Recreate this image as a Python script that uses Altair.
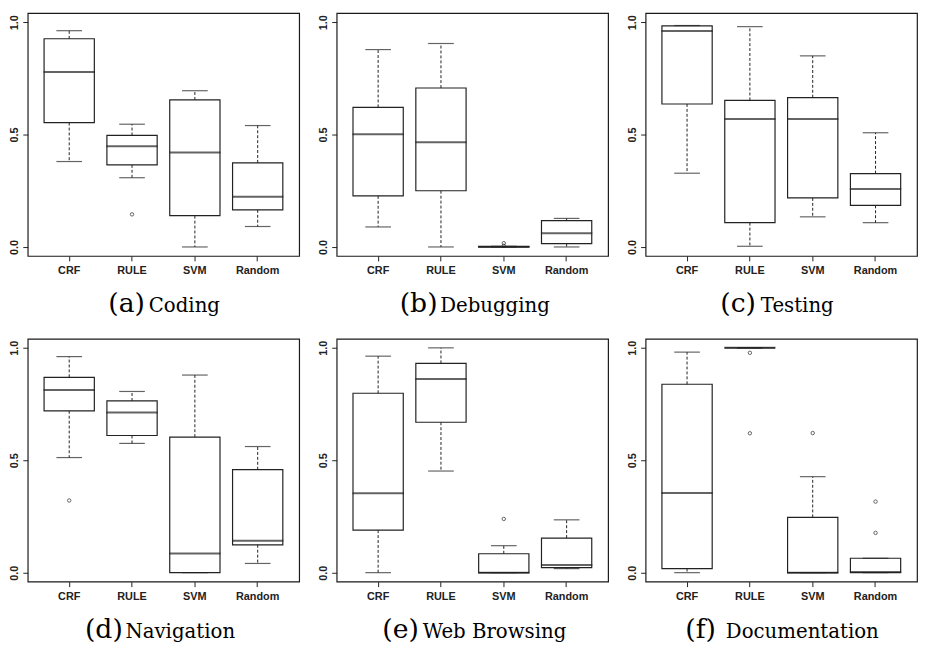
import altair as alt
import pandas as pd

categories = ["CRF", "RULE", "SVM", "Random"]
letters = ["(a)", "(b)", "(c)", "(d)", "(e)", "(f)"]
names = ["Coding", "Debugging", "Testing", "Navigation", "Web Browsing", "Documentation"]

# rows: panels (a)-(f); columns: CRF, RULE, SVM, Random
whisker_low = [
    [0.380, 0.308, 0.000, 0.091],
    [0.089, 0.000, 0.000, 0.000],
    [0.328, 0.003, 0.134, 0.108],
    [0.512, 0.575, 0.000, 0.041],
    [0.000, 0.452, 0.000, 0.018],
    [0.000, 1.000, 0.000, 0.000],
]
box_low = [
    [0.553, 0.365, 0.139, 0.165],
    [0.227, 0.250, 0.000, 0.015],
    [0.636, 0.108, 0.218, 0.185],
    [0.720, 0.610, 0.000, 0.124],
    [0.189, 0.669, 0.000, 0.022],
    [0.018, 1.000, 0.000, 0.000],
]
medians = [
    [0.778, 0.448, 0.420, 0.223],
    [0.501, 0.466, 0.000, 0.061],
    [0.961, 0.569, 0.569, 0.258],
    [0.813, 0.712, 0.085, 0.142],
    [0.353, 0.861, 0.000, 0.034],
    [0.354, 1.000, 0.000, 0.003],
]
box_high = [
    [0.926, 0.496, 0.654, 0.374],
    [0.621, 0.707, 0.003, 0.117],
    [0.983, 0.652, 0.664, 0.326],
    [0.869, 0.764, 0.603, 0.458],
    [0.798, 0.931, 0.084, 0.154],
    [0.838, 1.000, 0.246, 0.064],
]
whisker_high = [
    [0.962, 0.546, 0.695, 0.540],
    [0.878, 0.905, 0.003, 0.127],
    [0.985, 0.980, 0.850, 0.508],
    [0.961, 0.806, 0.879, 0.561],
    [0.963, 1.000, 0.120, 0.235],
    [0.981, 1.000, 0.427, 0.064],
]
outlier_panel = [0, 1, 1, 3, 4, 5, 5, 5, 5, 5]
outlier_cat = ["RULE", "SVM", "SVM", "CRF", "SVM", "RULE", "RULE", "SVM", "Random", "Random"]
outlier_value = [0.145, 0.017, 0.005, 0.321, 0.239, 0.978, 0.620, 0.621, 0.316, 0.177]

W = 275
H = 246
INK = "#222222"

y_scale = alt.Scale(domain=[-0.04, 1.04], nice=False, zero=False)
y_axis = alt.Axis(values=[0, 0.5, 1.0], format=".1f", title=None, grid=False, domain=False,
                  labelAngle=270, labelAlign="center", labelBaseline="bottom",
                  labelFont="Liberation Sans", labelFontWeight="bold", labelFontSize=11,
                  labelColor=INK, tickColor=INK, tickSize=5, labelPadding=3)
x_scale = alt.Scale(domain=categories, paddingInner=0.2, paddingOuter=0.26)
x_axis = alt.Axis(title=None, labelAngle=0, grid=False, domain=False,
                  labelFont="Liberation Sans", labelFontWeight="bold", labelFontSize=11,
                  labelColor=INK, tickColor=INK, tickSize=5, labelPadding=4)


def X():
    return alt.X("cat:N", scale=x_scale, axis=x_axis, sort=categories)


def Y(field):
    return alt.Y(field, type="quantitative", scale=y_scale, axis=y_axis)


def panel(i):
    df = pd.DataFrame({
        "cat": categories,
        "lo": whisker_low[i],
        "q1": box_low[i],
        "med": medians[i],
        "q3": box_high[i],
        "hi": whisker_high[i],
    })
    base = alt.Chart(df)
    box = base.mark_bar(fill="white", stroke=INK, strokeWidth=1.2).encode(
        x=X(), y=Y("q1"), y2="q3")
    wh_up = base.mark_rule(color=INK, strokeDash=[3, 2], strokeWidth=1).encode(
        x=X(), y=Y("q3"), y2="hi")
    wh_lo = base.mark_rule(color=INK, strokeDash=[3, 2], strokeWidth=1).encode(
        x=X(), y=Y("q1"), y2="lo")
    cap_up = base.mark_tick(orient="horizontal", color=INK, size=26, thickness=1.2).encode(
        x=X(), y=Y("hi"))
    cap_lo = base.mark_tick(orient="horizontal", color=INK, size=26, thickness=1.2).encode(
        x=X(), y=Y("lo"))
    med = base.mark_tick(orient="horizontal", color=INK, size=52, thickness=2).encode(
        x=X(), y=Y("med"))

    odf = pd.DataFrame({
        "cat": [c for p, c in zip(outlier_panel, outlier_cat) if p == i],
        "v": [v for p, v in zip(outlier_panel, outlier_value) if p == i],
    })
    layers = [box, wh_up, wh_lo, cap_up, cap_lo, med]
    if len(odf):
        pts = alt.Chart(odf).mark_point(shape="circle", filled=False, color=INK,
                                        size=12, strokeWidth=1).encode(x=X(), y=Y("v"))
        layers.append(pts)

    # caption
    w_letter = 38
    w_word = 11.8 * len(names[i])
    gap = 3
    start = W / 2 - (w_letter + gap + w_word) / 2
    cdf = pd.DataFrame({"letter": [letters[i]], "name": [names[i]]})
    cap1 = alt.Chart(cdf).mark_text(font="DejaVu Serif", fontSize=27, align="left",
                                    baseline="alphabetic", color="black",
                                    fontWeight="normal").encode(
        text="letter:N", x=alt.value(start), y=alt.value(H + 57))
    cap2 = alt.Chart(cdf).mark_text(font="DejaVu Serif", fontSize=20, align="left",
                                    baseline="alphabetic", color="black").encode(
        text="name:N", x=alt.value(start + w_letter + gap), y=alt.value(H + 57))
    layers += [cap1, cap2]
    return alt.layer(*layers).properties(width=W, height=H)


row1 = alt.hconcat(panel(0), panel(1), panel(2), spacing=17)
row2 = alt.hconcat(panel(3), panel(4), panel(5), spacing=17)
chart = alt.vconcat(row1, row2, spacing=20).properties(
    padding={"left": 0, "top": 0, "right": 0, "bottom": 0},
    background="white",
).configure_view(stroke="#1a1a1a", strokeWidth=1.2)

chart.save("out.html", embed_options={"renderer": "svg", "actions": False})
